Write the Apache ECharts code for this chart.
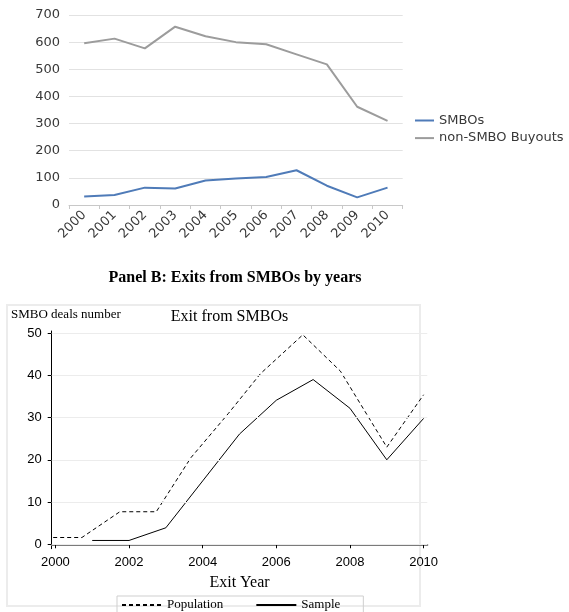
<!DOCTYPE html>
<html>
<head>
<meta charset="utf-8">
<script src="https://cdn.jsdelivr.net/npm/echarts@6/dist/echarts.min.js"></script>
<style>
html,body{margin:0;padding:0;background:#fff;}
#c{width:569px;height:612px;}
</style>
</head>
<body>
<div id="c"></div>
<script>
// Panel A data
const yearsA = ['2000','2001','2002','2003','2004','2005','2006','2007','2008','2009','2010'];
const smbos = [31, 37, 64, 61, 90, 98, 103, 128, 71, 28, 64];
const nonSmbo = [596, 613, 577, 657, 622, 600, 592, 555, 518, 362, 310];
const yTicksA = [0, 100, 200, 300, 400, 500, 600, 700];

// Panel B data
const population = [[1999.75,1.6],[2000.72,1.6],[2001.75,7.7],[2002.74,7.7],[2003.68,20.5],[2004.7,31],[2005.57,40.4],[2006.72,49.6],[2007.74,41],[2009.0,23],[2010.0,35.4]];
const sample = [[2001,0.9],[2002,0.9],[2003,3.9],[2004,15],[2005,26.1],[2006,34.1],[2007,39],[2008,32.2],[2009,20],[2010,29.8]];
const xTicksB = [2000, 2002, 2004, 2006, 2008, 2010];
const yTicksB = [0, 10, 20, 30, 40, 50];

const chart = echarts.init(document.getElementById('c'));
const serif = 'Liberation Serif';
const sans = 'Liberation Sans';
const fontA = 'DejaVu Sans';
const hiddenSymbol = {color: 'rgba(0,0,0,0)', borderColor: 'rgba(0,0,0,0)', borderWidth: 0};

chart.setOption({
  animation: false,
  backgroundColor: '#fff',
  title: [
    {text: 'Panel B: Exits from SMBOs by years', left: 235, top: 270, textAlign: 'center', padding: 0,
     textStyle: {fontFamily: serif, fontWeight: 'bold', fontSize: 16, color: '#000'}},
    {text: 'Exit from SMBOs', left: 229.5, top: 309, textAlign: 'center', padding: 0,
     textStyle: {fontFamily: serif, fontWeight: 'normal', fontSize: 16, color: '#000'}},
    {text: 'SMBO deals number', left: 11, top: 308.5, padding: 0,
     textStyle: {fontFamily: serif, fontWeight: 'normal', fontSize: 13, color: '#000'}}
  ],
  graphic: [
    {type: 'rect', shape: {x: 7, y: 305, width: 413, height: 301}, style: {fill: 'none', stroke: '#ececec', lineWidth: 2}, silent: true, z: -1}
  ],
  legend: [
    {data: ['SMBOs', 'non-SMBO Buyouts'], orient: 'vertical', left: 414, top: 113.5, padding: 0,
     itemWidth: 19, itemHeight: 2, itemGap: 3.6, itemStyle: hiddenSymbol,
     textStyle: {fontFamily: fontA, fontSize: 13, color: '#383838', lineHeight: 14}},
    {data: ['Population', 'Sample'], orient: 'horizontal', left: 117, top: 596, padding: [1, 23, 6, 4],
     itemWidth: 40, itemHeight: 2, itemGap: 32, borderColor: '#cfcfcf', borderWidth: 1, itemStyle: hiddenSymbol,
     textStyle: {fontFamily: serif, fontSize: 13, color: '#000', lineHeight: 16}}
  ],
  grid: [
    {left: 69, right: 166.3, top: 15, height: 190},
    {left: 51.7, right: 141.7, top: 331, height: 217.7}
  ],
  xAxis: [
    {type: 'category', gridIndex: 0, data: yearsA, boundaryGap: true,
     axisLine: {lineStyle: {color: '#c8c8c8', width: 1}},
     axisTick: {show: true, length: 4, lineStyle: {color: '#c8c8c8'}},
     axisLabel: {rotate: 45, margin: 8, fontFamily: fontA, fontSize: 13, color: '#383838', interval: 0},
     splitLine: {show: false}},
    {type: 'value', gridIndex: 1, min: 1999.9, max: 2010.1,
     name: 'Exit Year', nameLocation: 'middle', nameGap: 26,
     nameTextStyle: {fontFamily: serif, fontSize: 16, color: '#000'},
     axisLine: {lineStyle: {color: '#7a7a7a', width: 2}},
     axisTick: {show: true, length: 4, customValues: xTicksB, lineStyle: {color: '#000'}},
     axisLabel: {customValues: xTicksB, margin: 7, fontFamily: sans, fontSize: 13, color: '#000',
                 formatter: v => String(v)},
     splitLine: {show: false}}
  ],
  yAxis: [
    {type: 'value', gridIndex: 0, min: 0, max: 700, interval: 100,
     axisLine: {show: false}, axisTick: {show: false},
     axisLabel: {margin: 9, fontFamily: fontA, fontSize: 13, color: '#383838'},
     splitLine: {lineStyle: {color: '#e2e2e2', width: 1}}},
    {type: 'value', gridIndex: 1, min: -1.05, max: 50.5,
     axisLine: {show: true, lineStyle: {color: '#000', width: 1}},
     axisTick: {show: true, length: 4, customValues: yTicksB, lineStyle: {color: '#000'}},
     axisLabel: {customValues: yTicksB, margin: 10, fontFamily: sans, fontSize: 13, color: '#000',
                 formatter: v => String(v)},
     splitLine: {show: false}}
  ],
  series: [
    {name: 'SMBOs', type: 'line', xAxisIndex: 0, yAxisIndex: 0, data: smbos, symbol: 'none',
     lineStyle: {color: '#4f7bb8', width: 2}, itemStyle: {color: '#4f7bb8'}},
    {name: 'non-SMBO Buyouts', type: 'line', xAxisIndex: 0, yAxisIndex: 0, data: nonSmbo, symbol: 'none',
     lineStyle: {color: '#9c9c9c', width: 2}, itemStyle: {color: '#9c9c9c'}},
    {name: 'Population', type: 'line', xAxisIndex: 1, yAxisIndex: 1, data: population, symbol: 'none', clip: false,
     lineStyle: {color: '#000', width: 1, type: [4, 3]}, itemStyle: {color: '#000'},
     markLine: {silent: true, symbol: 'none', label: {show: false},
       lineStyle: {color: '#ececec', width: 1, type: 'solid'},
       data: yTicksB.map(v => ({yAxis: v}))}},
    {name: 'Sample', type: 'line', xAxisIndex: 1, yAxisIndex: 1, data: sample, symbol: 'none',
     lineStyle: {color: '#000', width: 1}, itemStyle: {color: '#000'}}
  ]
});
</script>
</body>
</html>
